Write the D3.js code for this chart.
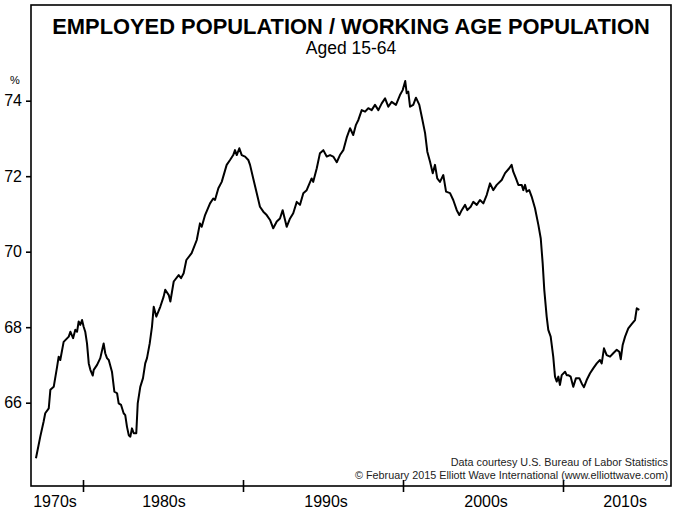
<!DOCTYPE html>
<html>
<head>
<meta charset="utf-8">
<script src="https://cdn.jsdelivr.net/npm/d3@7"></script>
<style>
  html, body { margin: 0; padding: 0; background: #fff; }
  svg { display: block; }
  text { font-family: "Liberation Sans", Arial, Helvetica, sans-serif; }
</style>
</head>
<body>
<svg id="chart" width="680" height="518"></svg>
<script>
// ---- data ----
const years = [
  1977.06,1977.33,1977.54,1977.64,1977.86,1977.96,1978.17,1978.38,1978.48,1978.58,
  1978.79,1979.11,1979.21,1979.38,1979.52,1979.63,1979.73,1979.83,1979.94,1980.04,
  1980.14,1980.25,1980.36,1980.46,1980.61,1980.67,1980.88,1981.08,1981.29,1981.39,
  1981.50,1981.61,1981.81,1981.96,1982.13,1982.23,1982.38,1982.54,1982.64,1982.75,
  1982.86,1982.96,1983.06,1983.17,1983.33,1983.42,1983.58,1983.75,1983.89,1984.00,
  1984.17,1984.31,1984.42,1984.58,1984.83,1985.04,1985.14,1985.36,1985.46,1985.67,
  1985.98,1986.13,1986.29,1986.46,
  1986.79,1987.11,1987.31,1987.42,1987.63,1987.94,1988.14,1988.25,1988.46,1988.67,
  1988.98,1989.19,1989.39,1989.50,1989.61,1989.77,1989.92,1990.13,1990.33,1990.44,
  1990.64,1990.86,1991.06,1991.27,1991.48,1991.69,1991.89,1992.11,1992.31,1992.48,
  1992.73,1992.94,1993.14,1993.36,1993.56,1993.77,1993.98,1994.29,1994.39,1994.61,
  1994.81,1995.02,1995.23,1995.44,1995.64,1995.86,1996.06,1996.27,1996.48,1996.69,
  1996.89,1997.06,1997.21,1997.42,1997.63,1997.83,1998.04,1998.25,1998.46,1998.67,
  1998.88,1999.08,1999.29,1999.56,1999.81,1999.98,2000.14,2000.23,2000.33,2000.44,
  2000.64,2000.81,2001.02,2001.17,2001.38,2001.52,2001.69,2001.86,2002.00,2002.14,
  2002.31,2002.52,2002.69,2002.94,2003.14,2003.36,2003.52,2003.67,2003.88,2004.02,
  2004.23,2004.39,2004.61,2004.81,2005.02,2005.23,2005.44,2005.64,2005.86,2006.17,
  2006.38,2006.64,2006.79,
  2006.89,2007.06,2007.21,2007.42,2007.52,2007.63,2007.73,2007.89,2008.04,2008.25,
  2008.46,2008.61,2008.73,2008.83,2008.98,2009.08,2009.23,2009.39,2009.50,2009.61,
  2009.71,2009.81,2009.92,2010.13,2010.23,2010.33,2010.48,2010.64,2010.81,2011.02,
  2011.17,2011.31,2011.48,2011.69,2011.89,2012.11,2012.31,2012.42,2012.56,2012.73,
  2012.94,2013.14,2013.36,2013.52,2013.61,2013.73,2013.88,2014.08,2014.29,2014.50,
  2014.61,2014.77
];
const ratio = [
  64.53,65.10,65.50,65.72,65.85,66.34,66.42,66.95,67.22,67.13,
  67.61,67.75,67.88,67.71,67.93,67.88,68.15,68.06,68.19,68.01,
  67.88,67.57,67.04,66.87,66.72,66.87,67.00,67.18,67.57,67.31,
  67.18,67.13,66.82,66.29,66.25,65.98,65.94,65.72,65.67,65.36,
  65.14,65.10,65.32,65.19,65.19,65.98,66.42,66.65,67.04,67.18,
  67.57,68.01,68.54,68.28,68.54,68.81,68.99,68.85,68.68,69.21,
  69.38,69.30,69.43,69.78,
  69.96,70.31,70.75,70.66,70.97,71.28,71.41,71.37,71.68,71.85,
  72.30,72.43,72.56,72.69,72.56,72.74,72.56,72.52,72.43,72.30,
  71.94,71.55,71.19,71.06,70.97,70.84,70.62,70.80,70.88,71.10,
  70.66,70.88,71.02,71.32,71.24,71.55,71.63,71.94,71.85,72.21,
  72.61,72.69,72.52,72.56,72.52,72.37,72.56,72.69,73.02,73.27,
  73.09,73.36,73.49,73.75,73.71,73.80,73.75,73.89,73.75,73.93,
  74.06,73.84,73.97,73.89,74.15,74.28,74.52,74.20,74.24,73.84,
  73.89,74.08,73.89,73.58,73.14,72.65,72.38,72.08,72.30,71.94,
  71.85,72.03,71.59,71.55,71.37,71.10,70.97,71.10,71.24,71.10,
  71.19,71.32,71.24,71.37,71.28,71.50,71.81,71.63,71.77,71.90,
  72.08,72.21,72.30,
  72.12,71.94,71.77,71.77,71.63,71.77,71.59,71.63,71.46,71.15,
  70.71,70.35,69.69,68.99,68.28,67.93,67.75,67.22,66.69,66.56,
  66.69,66.47,66.73,66.82,66.73,66.73,66.69,66.42,66.65,66.65,
  66.51,66.41,66.60,66.78,66.91,67.04,67.13,67.04,67.44,67.26,
  67.22,67.31,67.40,67.35,67.15,67.53,67.75,67.97,68.08,68.19,
  68.50,68.46
];
const yTicks = [66, 68, 70, 72, 74];
const decadeTicks = [1980, 1990, 2000, 2010];
const decadeLabels = ["1970s", "1980s", "1990s", "2000s", "2010s"];
const decadeLabelYears = [1978.25, 1985.06, 1995.19, 2005.19, 2013.88];
const titleText = "EMPLOYED POPULATION / WORKING AGE POPULATION";
const subtitleText = "Aged 15-64";
const unitText = "%";
const sourceLines = [
  "Data courtesy U.S. Bureau of Labor Statistics",
  "\u00A9 February 2015 Elliott Wave International (www.elliottwave.com)"
];

// ---- layout ----
const L = 31, R = 671, T = 5, B = 486;
const svg = d3.select("#chart");

const x = d3.scaleLinear().domain([1976.75, 2016.75]).range([L, R]);
const y = d3.scaleLinear().domain([63.793, 76.535]).range([B, T]);

// frame
svg.append("rect")
  .attr("x", L).attr("y", T).attr("width", R - L).attr("height", B - T)
  .attr("fill", "none").attr("stroke", "#000").attr("stroke-width", 1.6);

// y axis
const yAxis = svg.append("g")
  .attr("transform", `translate(${L},0)`)
  .call(d3.axisLeft(y).tickValues(yTicks).tickSizeInner(5).tickSizeOuter(0).tickPadding(4).tickFormat(d3.format("d")));
yAxis.select(".domain").remove();
yAxis.selectAll(".tick line").attr("stroke", "#000").attr("stroke-width", 1.6);
yAxis.selectAll(".tick text")
  .attr("fill", "#000").style("font-size", "16px")
  .style("font-family", '"Liberation Sans", Arial, sans-serif');

// x axis ticks (crossing the axis line)
const xAxis = svg.append("g")
  .attr("transform", `translate(0,${B})`)
  .call(d3.axisBottom(x).tickValues(decadeTicks).tickSizeInner(6).tickSizeOuter(0).tickFormat(""));
xAxis.select(".domain").remove();
xAxis.selectAll(".tick line").attr("y1", -6).attr("y2", 6)
  .attr("stroke", "#000").attr("stroke-width", 1.6);

// decade labels
svg.append("g").selectAll("text")
  .data(decadeLabels)
  .join("text")
  .attr("x", (d, i) => x(decadeLabelYears[i]))
  .attr("y", 507)
  .attr("text-anchor", "middle")
  .style("font-size", "16px")
  .attr("fill", "#000")
  .text(d => d);

// unit label
svg.append("text")
  .attr("x", 15).attr("y", 84)
  .attr("text-anchor", "middle")
  .style("font-size", "11px")
  .attr("fill", "#000")
  .text(unitText);

// title
const title = svg.append("text")
  .attr("x", (L + R) / 2).attr("y", 34)
  .attr("text-anchor", "middle")
  .style("font-size", "20px").style("font-weight", "bold")
  .attr("fill", "#000")
  .text(titleText);
const tw = title.node().getComputedTextLength();
title.style("font-size", (20 * 598 / tw).toFixed(2) + "px");

svg.append("text")
  .attr("x", (L + R) / 2).attr("y", 54)
  .attr("text-anchor", "middle")
  .style("font-size", "17.5px")
  .attr("fill", "#000")
  .text(subtitleText);

// source lines
svg.append("g").selectAll("text")
  .data(sourceLines)
  .join("text")
  .attr("x", 668)
  .attr("y", (d, i) => 466 + i * 13)
  .attr("text-anchor", "end")
  .style("font-size", "10.8px")
  .attr("fill", "#222")
  .text(d => d);

// line
const line = d3.line()
  .x((d, i) => x(years[i]))
  .y((d, i) => y(ratio[i]));
svg.append("path")
  .datum(ratio)
  .attr("fill", "none")
  .attr("stroke", "#000")
  .attr("stroke-width", 2)
  .attr("stroke-linejoin", "round")
  .attr("d", line);
</script>
</body>
</html>
